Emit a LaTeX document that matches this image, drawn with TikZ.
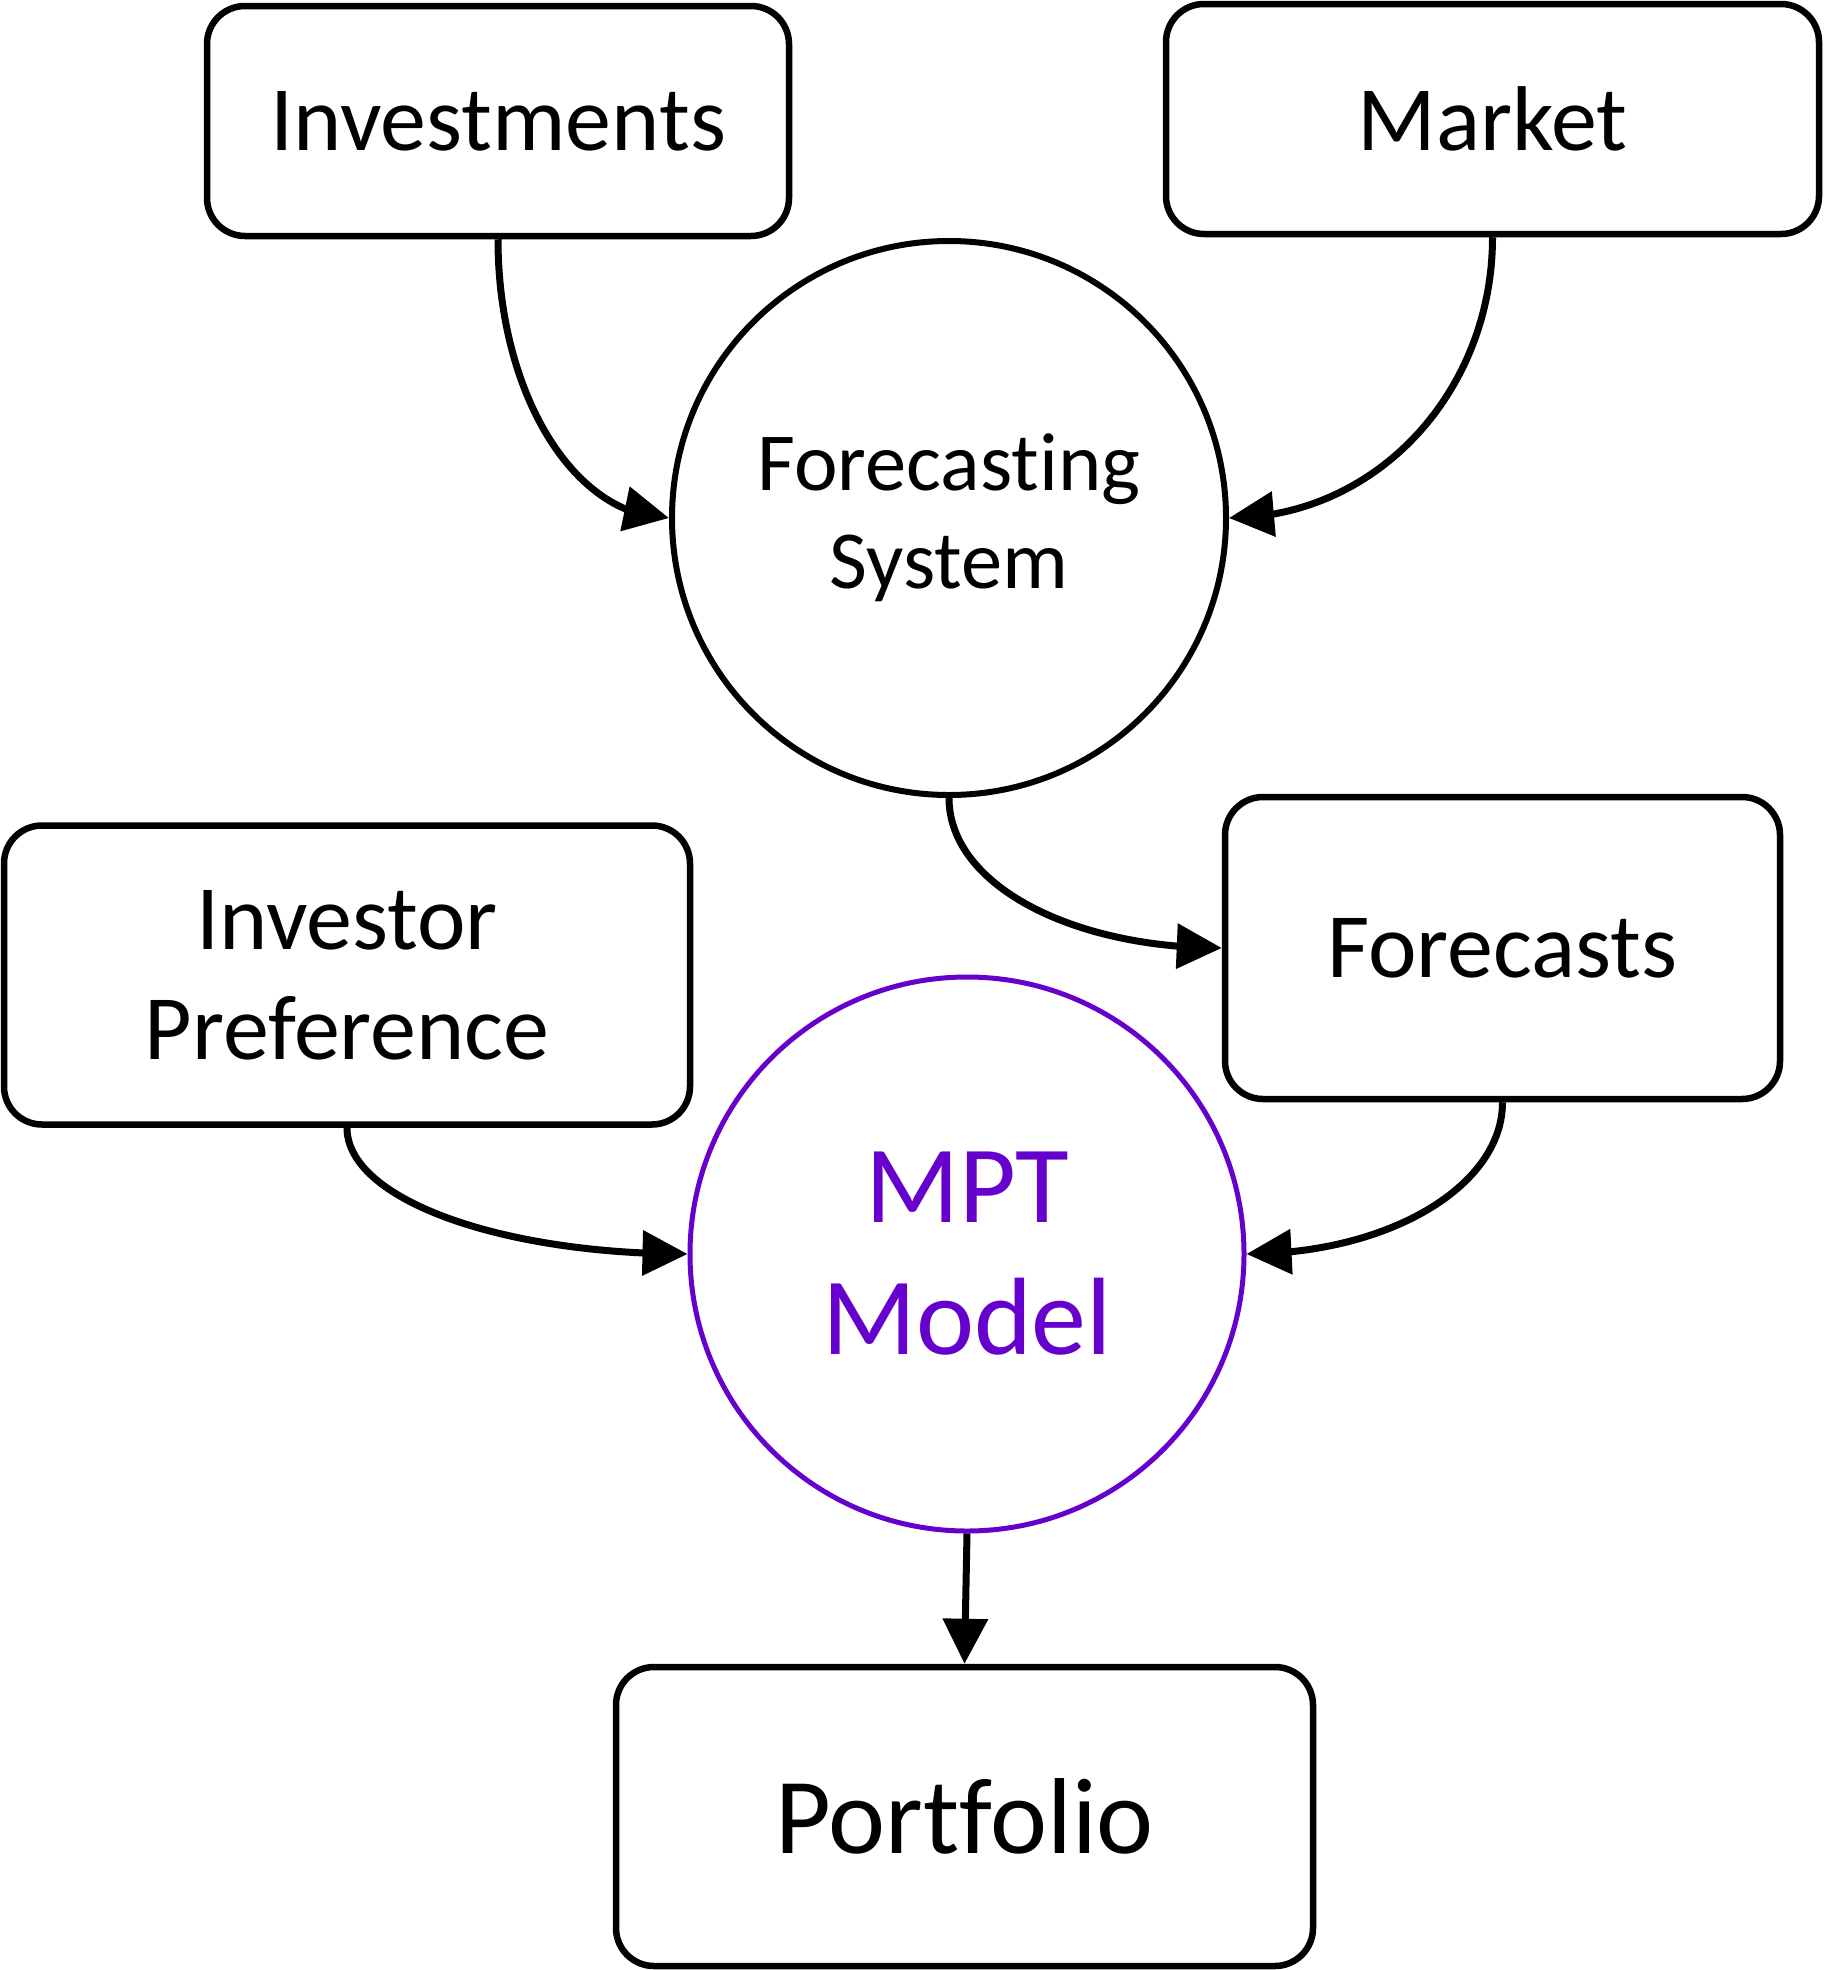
\documentclass[tikz,border=0pt]{standalone}
\usepackage{fontspec}
\setmainfont{Carlito}[Ligatures={NoCommon}]
\usetikzlibrary{arrows.meta,bending}
\definecolor{mptpurple}{HTML}{6600CC}
\begin{document}
\begin{tikzpicture}[x=1pt,y=1pt,
  box/.style={draw=black, line width=6.5pt, rounded corners=38pt, align=center, inner sep=0pt,
    font=\fontsize{92}{110}\selectfont},
  bubble/.style={draw=black, line width=6pt, circle, align=center, inner sep=0pt, minimum size=554pt},
  conn/.style={line width=7pt, -{Triangle[length=45pt,width=44pt]}}]
\useasboundingbox (0,0) rectangle (1823,-1970);
\node[box, minimum width=582pt, minimum height=230pt] (inv) at (498,-121) {Investments};
\node[box, minimum width=653pt, minimum height=230pt] (mkt) at (1492.5,-119) {Market};
\node[bubble, font=\fontsize{82.5}{98}\selectfont] (fs) at (949,-518) {Forecasting\\System};
\node[box, minimum width=686pt, minimum height=299pt] (ip) at (347,-975) {Investor\\Preference};
\node[box, minimum width=555pt, minimum height=302pt] (fc) at (1502.5,-948) {Forecasts};
\node[bubble, draw=mptpurple, line width=5pt, text=mptpurple, font=\fontsize{110}{132}\selectfont] (mpt) at (967,-1254) {MPT\\Model};
\node[box, minimum width=697pt, minimum height=299pt, font=\fontsize{108}{130}\selectfont] (port) at (964.5,-1816.5) {Portfolio};
\draw[conn] (inv.south) .. controls +(0,-154) and +(-95,0) .. (fs.west);
\draw[conn] (mkt.south) .. controls +(0,-155) and +(147,0) .. (fs.east);
\draw[conn] (fs.south) .. controls +(0,-86) and +(-152,0) .. (fc.west);
\draw[conn] (ip.south) .. controls +(0,-71) and +(-189,0) .. (mpt.west);
\draw[conn] (fc.south) .. controls +(0,-84) and +(142,0) .. (mpt.east);
\draw[conn] (mpt.south) -- (port.north);
\end{tikzpicture}
\end{document}
